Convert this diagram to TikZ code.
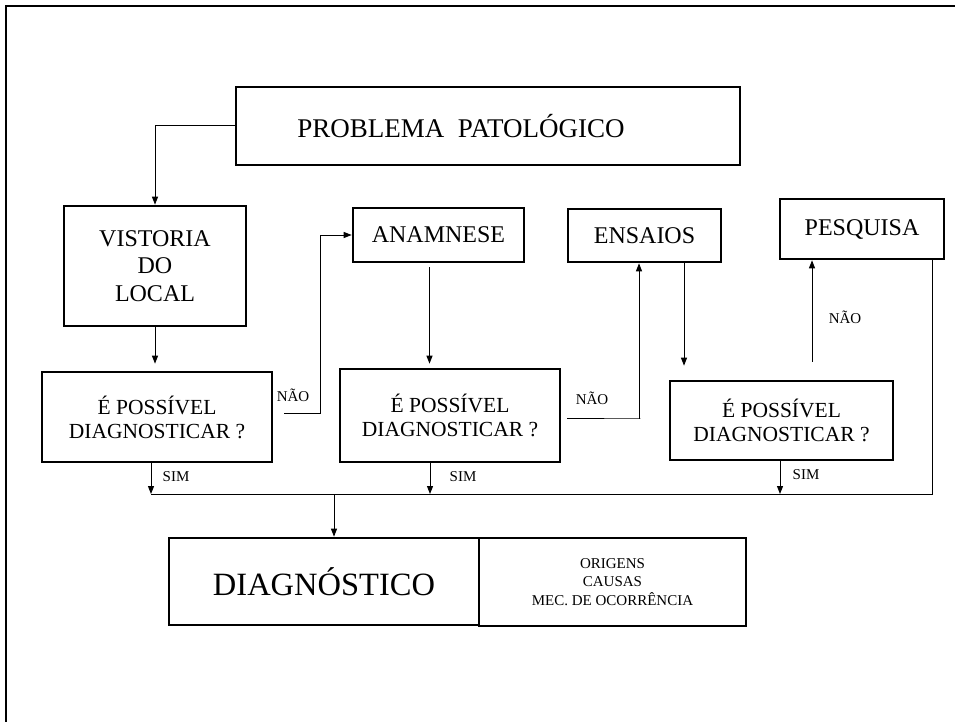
\documentclass[tikz,border=0pt]{standalone}
\usepackage{fontspec}
\setmainfont{Liberation Serif}
\usetikzlibrary{arrows.meta}

\begin{document}
\begin{tikzpicture}[x=1pt,y=-1pt,
  caixa/.style={draw,line width=2.6pt,inner sep=0pt,align=center},
  etapa/.style={caixa,font=\fontsize{24}{27.5}\selectfont},
  decisao/.style={caixa,font=\fontsize{21.5}{24}\selectfont},
  seta/.style={line width=1pt,-{Triangle[length=8pt,width=6pt]}},
  linha/.style={line width=1pt},
  rotulo/.style={font=\fontsize{15}{17}\selectfont}]
\useasboundingbox (0,0) rectangle (955,722);
\draw[line width=2.6pt] (6,722) -- (6,6) -- (955,6);
\node[caixa,minimum width=504,minimum height=78,font=\fontsize{27}{30}\selectfont] (prob) at (488,126) {PROBLEMA\ \ PATOLÓGICO\hspace*{54pt}};
\node[etapa,minimum width=182,minimum height=120] (vist) at (155,266) {VISTORIA\\DO\\LOCAL};
\node[etapa,minimum width=171,minimum height=54] (anam) at (438.5,235) {ANAMNESE};
\node[etapa,minimum width=153,minimum height=53] (ens) at (644.5,235.5) {ENSAIOS};
\node[etapa,minimum width=164,minimum height=60] (pesq) at (862,229) {PESQUISA};
\node[decisao,minimum width=230,minimum height=90] (poss1) at (157,417) {É POSSÍVEL\\DIAGNOSTICAR ?};
\node[decisao,minimum width=220,minimum height=93] (poss2) at (450,415.5) {É POSSÍVEL\\DIAGNOSTICAR ?};
\node[decisao,minimum width=223,minimum height=79] (poss3) at (781.5,420.5) {É POSSÍVEL\\DIAGNOSTICAR ?};
\node[caixa,minimum width=310,minimum height=87,font=\fontsize{32.5}{36}\selectfont] (diag) at (324,581.5) {DIAGNÓSTICO};
\node[caixa,minimum width=267,minimum height=88,font=\fontsize{15}{18.5}\selectfont] (orig) at (612.5,582) {ORIGENS\\CAUSAS\\MEC. DE OCORRÊNCIA};
\coordinate (barra) at (0,494);
\draw[seta] (prob.west) -| (vist.north);
\draw[seta,shorten >=7pt] (vist.south) -- (vist.south |- poss1.north);
\draw[seta] ([shift={(11,-4)}]poss1.east) -- ++(36,0) |- (anam.west);
\draw[seta,shorten <=4pt,shorten >=4pt] ([xshift=-9pt]anam.south) -- ([xshift=-9pt]anam.south |- poss2.north);
\draw[seta] ([shift={(6,2.5)}]poss2.east) -- ++(73,0) -| ([xshift=-5.5pt]ens.south);
\draw[seta,shorten >=14pt] ([xshift=39.5pt]ens.south) -- ([xshift=39.5pt]ens.south |- poss3.north);
\draw[seta,shorten <=18pt] ([xshift=-50pt]pesq.south |- poss3.north) -- ([xshift=-50pt]pesq.south);
\draw[seta] ([xshift=-6pt]poss1.south) -- ([xshift=-6pt]poss1.south |- barra);
\draw[seta] ([xshift=-20pt]poss2.south) -- ([xshift=-20pt]poss2.south |- barra);
\draw[seta] ([xshift=-1.5pt]poss3.south) -- ([xshift=-1.5pt]poss3.south |- barra);
\draw[linha] ([xshift=-6pt]poss1.south |- barra) -| ([xshift=-13pt]pesq.south east);
\draw[seta] ([xshift=10pt]diag.north |- barra) -- ([xshift=10pt]diag.north);
\node[rotulo] (nao1) at (293,395) {NÃO};
\node[rotulo] (nao2) at (592,398) {NÃO};
\node[rotulo] (nao3) at (845,317) {NÃO};
\node[rotulo] (sim1) at (176,477) {SIM};
\node[rotulo] (sim2) at (463,477) {SIM};
\node[rotulo] (sim3) at (806,475) {SIM};
\end{tikzpicture}
\end{document}
